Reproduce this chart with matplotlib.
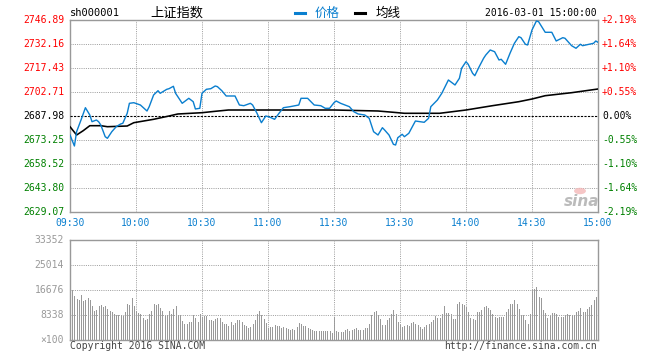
import matplotlib
matplotlib.use("Agg")
import matplotlib.pyplot as plt
import numpy as np

# ---------------- data ----------------
title_code = "sh000001"
title_name = "上证指数"
timestamp = "2016-03-01 15:00:00"
prev_close = 2687.98

price_levels = [2746.89, 2732.16, 2717.43, 2702.71, 2687.98, 2673.25, 2658.52, 2643.80, 2629.07]
pct_labels = ["+2.19%", "+1.64%", "+1.10%", "+0.55%", "0.00%", "-0.55%", "-1.10%", "-1.64%", "-2.19%"]
time_labels = ["09:30", "10:00", "10:30", "11:00", "11:30", "13:30", "14:00", "14:30", "15:00"]
vol_labels = ["33352", "25014", "16676", "8338", "×100"]
vol_levels = [33352, 25014, 16676, 8338, 0]

# price (minute index, value)
price_min = [0, 2, 3, 5, 7, 9, 10, 12, 13, 14, 16, 17, 19, 21, 23, 24, 26, 27, 29, 32,
             35, 36, 38, 40, 41, 44, 45, 47, 48, 51, 53, 54, 56, 57, 59, 60, 62, 64, 66, 67,
             69, 71, 75, 77, 79, 82, 83, 85, 87, 89, 91, 93, 95, 97, 100, 104, 105, 108, 111, 114,
             116, 118, 120, 121, 123, 125, 127, 129, 131, 134, 136, 138, 140, 142, 143, 145, 147, 148, 149, 151,
             152, 154, 157, 159, 161, 163, 164, 167, 169, 172, 174, 175, 177, 178, 180, 181, 183, 184, 186, 188,
             189, 191, 193, 195, 196, 198, 200, 202, 204, 205, 207, 208, 210, 212, 213, 216, 219, 221, 224, 225,
             228, 230, 232, 233, 236, 238, 239, 240]
price_val = [2676.32, 2669.57, 2678.34, 2685.52, 2693.07, 2688.59, 2684.48, 2685.52, 2684.48, 2682.46,
             2675.28, 2674.29, 2678.34, 2681.41, 2683.07, 2683.50, 2689.64, 2695.77, 2696.14, 2694.73,
             2691.05, 2693.69, 2700.87, 2703.51, 2701.91, 2704.37, 2704.74, 2706.21, 2701.91, 2695.77,
             2697.80, 2698.84, 2696.76, 2692.28, 2692.71, 2701.91, 2704.37, 2704.74, 2706.39, 2706.00,
             2703.51, 2700.26, 2700.26, 2694.73, 2694.30, 2695.77, 2694.73, 2689.64, 2683.87, 2687.98,
             2687.18, 2685.95, 2689.64, 2693.07, 2693.69, 2694.73, 2698.84, 2698.84, 2694.73, 2694.30,
             2692.71, 2692.71, 2696.14, 2697.19, 2695.77, 2694.73, 2693.69, 2690.62, 2689.21, 2688.59,
             2686.57, 2678.34, 2676.32, 2680.80, 2679.39, 2676.32, 2670.61, 2670.18, 2674.66, 2676.75,
             2675.28, 2677.36, 2684.91, 2684.48, 2684.11, 2686.57, 2693.69, 2697.80, 2701.91, 2710.08,
             2708.05, 2707.01, 2711.12, 2717.26, 2721.31, 2719.71, 2714.19, 2712.71, 2718.24, 2723.39,
             2725.42, 2728.49, 2727.44, 2722.35, 2722.78, 2719.71, 2726.46, 2732.60, 2736.65, 2736.04,
             2731.99, 2731.56, 2740.76, 2746.29, 2745.86, 2739.35, 2739.35, 2734.01, 2736.04, 2735.67,
             2731.13, 2729.53, 2732.00, 2731.13, 2731.99, 2732.60, 2734.01, 2733.20]

# average price line (minute index, value)
avg_min = [0, 3, 6, 9, 14, 17, 26, 29, 38, 45, 49, 60, 66, 72, 120, 140, 147, 152, 168, 180,
           192, 204, 210, 216, 228, 240]
avg_val = [2681.41, 2676.32, 2678.96, 2682.03, 2682.03, 2681.41, 2681.84, 2683.87, 2685.95, 2687.98,
           2689.21, 2690.01, 2690.86, 2691.66, 2691.66, 2691.05, 2690.25, 2689.64, 2689.64, 2691.66,
           2694.30, 2696.76, 2698.41, 2700.44, 2702.28, 2704.55]

# per-minute volume (x100 lots), minute 0..240
volume = [33352,
          16565, 14674, 13785, 13340, 15008, 13007, 13452, 14007, 13340, 11339,
          9672, 10005, 11339, 11673, 11117, 11339, 10339, 9783, 9449, 8782,
          8338, 8227, 8227, 8004, 9338, 12006, 11673, 14007, 11451, 9672,
          9005, 8560, 7337, 6781, 7115, 8560, 9672, 12006, 11784, 12006,
          10783, 9672, 8115, 8338, 9561, 8560, 10339, 11228, 8338, 8338,
          6337, 5336, 5336, 6003, 6003, 8338, 7448, 6003, 8560, 7782,
          7893, 7893, 6670, 6670, 6337, 6893, 7337, 7337, 6003, 5447,
          5447, 4780, 6003, 4891, 5670, 6670, 6670, 6003, 5114, 4780,
          4113, 4447, 5336, 6781, 8560, 9672, 8227, 7115, 5781, 4113,
          4336, 4336, 5003, 4669, 4669, 3891, 4224, 4002, 3669, 3335,
          3669, 3446, 4336, 5670, 5225, 4558, 4669, 4002, 3557, 3224,
          3002, 3002, 3002, 3002, 3002, 3002, 3002, 3002, 2446, 7600,
          3002, 2779, 2779, 2779, 3335, 3669, 3113, 3335, 3669, 4002,
          3335, 3335, 3335, 4002, 4002, 5336, 8227, 9338, 9672, 8338,
          7004, 5003, 5003, 6670, 7448, 8560, 10005, 8782, 6003, 4891,
          4224, 4669, 5003, 4669, 5559, 6003, 5336, 5003, 4447, 3669,
          4447, 4891, 5336, 6114, 6670, 8004, 7226, 7226, 8671, 11339,
          9116, 9116, 8560, 6893, 7115, 11895, 12673, 11895, 11673, 11006,
          9338, 7226, 6893, 6670, 9338, 9338, 10005, 11006, 11339, 10561,
          10005, 8560, 7782, 7226, 7782, 7671, 7782, 9227, 10228, 12006,
          12006, 13340, 12118, 10339, 8338, 8338, 6670, 5500, 8782, 16787,
          17120, 17676, 14341, 14007, 9894, 8894, 7226, 8004, 8894, 9116,
          8560, 7782, 7782, 7782, 8338, 8560, 8338, 8338, 8338, 9227,
          9672, 10561, 9449, 9449, 10339, 11006, 11673, 13340, 14230, 14452]

# ---------------- layout ----------------
W, H = 660, 360
fig = plt.figure(figsize=(W / 100, H / 100), dpi=100)
fig.patch.set_facecolor("white")

def fx(x):
    return x / W

def fy(y):
    return 1 - y / H

PX = 0.72  # one pixel in points
L, R = 70, 598
ax = fig.add_axes([fx(L), fy(212), (R - L) / W, 192 / H])
axv = fig.add_axes([fx(L), fy(340), (R - L) / W, 100 / H])

mono = "DejaVu Sans Mono"
cjk = ["Noto Sans CJK SC", "DejaVu Sans"]
grid_c = "#a0a0a0"
spine_c = "#999999"
blue = "#0a7fcf"
dot = (0, (1, 1.2))

minutes = np.arange(len(volume))
tick_pos = np.arange(0, 241, 30)

for a in (ax, axv):
    a.set_xlim(0, 240)
    a.set_xticks([])
    a.set_yticks([])
    for s in a.spines.values():
        s.set_color(spine_c)
        s.set_linewidth(1.4 * PX)
    for t in tick_pos[1:-1]:
        a.axvline(t, color=grid_c, lw=PX, ls=dot, zorder=3)

# main price chart
ax.set_ylim(price_levels[-1], price_levels[0])
for lv in price_levels[1:-1]:
    if abs(lv - prev_close) < 1e-6:
        ax.axhline(lv, color="black", lw=1.1 * PX, ls=(0, (2, 1.2)), zorder=3)
    else:
        ax.axhline(lv, color=grid_c, lw=PX, ls=dot, zorder=3)
ax.plot(price_min, price_val, color=blue, lw=1.4 * PX, zorder=5)
ax.plot(avg_min, avg_val, color="black", lw=1.6 * PX, zorder=4)

# volume chart
axv.set_ylim(0, vol_levels[0])
axv.vlines(minutes, 0, volume, colors="#999999", lw=PX, antialiased=False, zorder=2)
for lv in vol_levels[1:-1]:
    axv.axhline(lv, color=grid_c, lw=PX, ls=dot, zorder=3)

# left/right price labels
for i, (lv, pl) in enumerate(zip(price_levels, pct_labels)):
    y = 20 + i * 24
    if lv > prev_close + 1e-6:
        c = "#ff0000"
    elif lv < prev_close - 1e-6:
        c = "#008000"
    else:
        c = "black"
    fig.text(fx(64), fy(y), f"{lv:.2f}", ha="right", va="center", color=c,
             family=mono, fontsize=7)
    fig.text(fx(602), fy(y), pl, ha="left", va="center", color=c,
             family=mono, fontsize=7)

# time labels
for t, lab in zip(tick_pos, time_labels):
    fig.text(fx(L + t * 2.2), fy(223), lab, ha="center", va="center", color=blue,
             family=mono, fontsize=7)

# volume labels
for i, (lv, lab) in enumerate(zip(vol_levels, vol_labels)):
    fig.text(fx(64), fy(240 + i * 25), lab, ha="right", va="center", color="#999999",
             family=mono, fontsize=7)

# header
fig.text(fx(70), fy(13), title_code, ha="left", va="center", color="black",
         family=mono, fontsize=7.5)
fig.text(fx(150), fy(13), title_name, ha="left", va="center", color="black",
         family=cjk, fontsize=9.5)
fig.add_artist(plt.Line2D([fx(295), fx(305)], [fy(12.5), fy(12.5)], color=blue, lw=2.2))
fig.text(fx(315), fy(13), "价格", ha="left", va="center", color=blue, family=cjk, fontsize=9)
fig.add_artist(plt.Line2D([fx(355), fx(365)], [fy(12.5), fy(12.5)], color="black", lw=2.2))
fig.text(fx(376), fy(13), "均线", ha="left", va="center", color="black", family=cjk, fontsize=9)
fig.text(fx(597), fy(13), timestamp, ha="right", va="center", color="black",
         family=mono, fontsize=7)

# footer
fig.text(fx(70), fy(346), "Copyright 2016 SINA.COM", ha="left", va="center", color="#444444",
         family=mono, fontsize=7)
fig.text(fx(597), fy(346), "http://finance.sina.com.cn", ha="right", va="center", color="#444444",
         family=mono, fontsize=7)

# sina watermark
fig.add_artist(plt.Circle((fx(580), fy(191)), 0.009, transform=fig.transFigure,
                          facecolor="#f4b8b8", edgecolor="none", alpha=0.8))
fig.text(fx(582), fy(201), "sina", ha="center", va="center", color="#bbbbbb",
         fontsize=11, fontweight="bold", style="italic", family="DejaVu Sans")

fig.savefig("out.png", dpi=100, facecolor="white")
